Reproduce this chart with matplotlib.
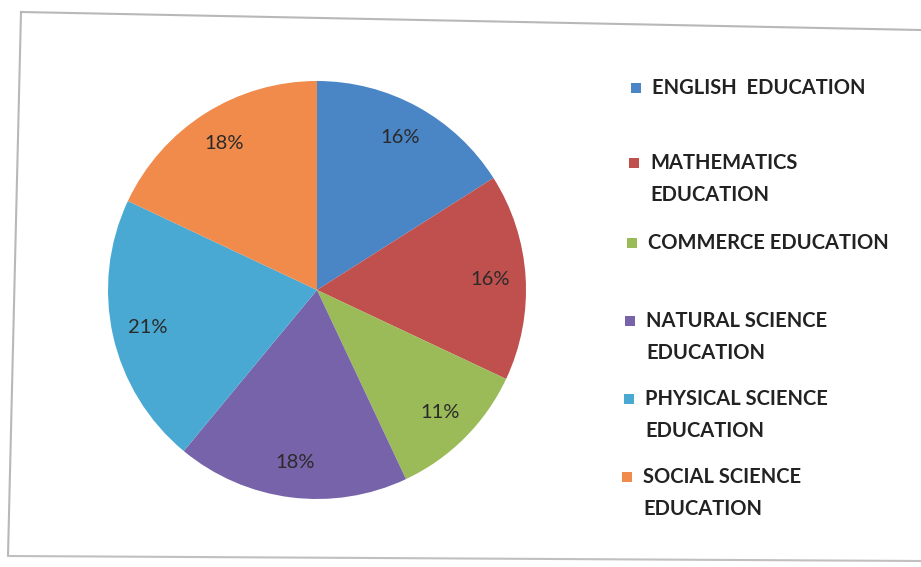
import matplotlib
matplotlib.use('Agg')
import matplotlib.pyplot as plt
from matplotlib.patches import Rectangle

labels = ['ENGLISH  EDUCATION', 'MATHEMATICS\nEDUCATION', 'COMMERCE EDUCATION',
          'NATURAL SCIENCE\nEDUCATION', 'PHYSICAL SCIENCE\nEDUCATION', 'SOCIAL SCIENCE\nEDUCATION']
shares = [16, 16, 11, 18, 21, 18]
colors = ['#4a85c6', '#c0504d', '#9bbb59', '#7763aa', '#4aa9d2', '#f08b4c']

plt.rcParams['font.family'] = ['Lato', 'DejaVu Sans']

W, H = 921, 567
fig = plt.figure(figsize=(W / 100, H / 100), dpi=100)
fig.patch.set_facecolor('white')

# pie centred at (317, 290) px, radius ~209 px
cx, cy, r = 317, 290, 209
ax = fig.add_axes([(cx - r) / W, (H - cy - r) / H, 2 * r / W, 2 * r / H])
wedges, texts, autotexts = ax.pie(shares, colors=colors, startangle=90, counterclock=False,
                                  autopct='%1.0f%%', pctdistance=0.83, radius=1,
                                  wedgeprops=dict(linewidth=0),
                                  textprops=dict(fontsize=14.5, color='#2a2a2a'))
ax.set_xlim(-1, 1)
ax.set_ylim(-1, 1)
ax.set_aspect('equal')
ax.axis('off')

# overlay in pixel coordinates for the frame and the legend
ov = fig.add_axes([0, 0, 1, 1], facecolor='none')
ov.set_xlim(0, W)
ov.set_ylim(H, 0)
ov.axis('off')

# scanned chart frame (slightly skewed)
ov.plot([21, 921], [12, 30], color='#b8b8b8', lw=1.5)
ov.plot([21, 8], [12, 556], color='#b8b8b8', lw=1.5)
ov.plot([8, 921], [556, 561], color='#c0c0c0', lw=1.5)

legend_y = [88, 179, 243, 337, 415, 493]
legend_x = [652, 650, 648, 646, 645, 643]
for lab, col, x, y in zip(labels, colors, legend_x, legend_y):
    first_y = y if '\n' not in lab else y - 16
    ov.add_patch(Rectangle((x - 21, first_y - 5), 10, 10, color=col, lw=0))
    ov.text(x, y, lab, fontsize=14.5, fontweight='bold', color='#222222',
            va='center', ha='left', linespacing=1.8)

fig.savefig('out.png', dpi=100, facecolor='white')
